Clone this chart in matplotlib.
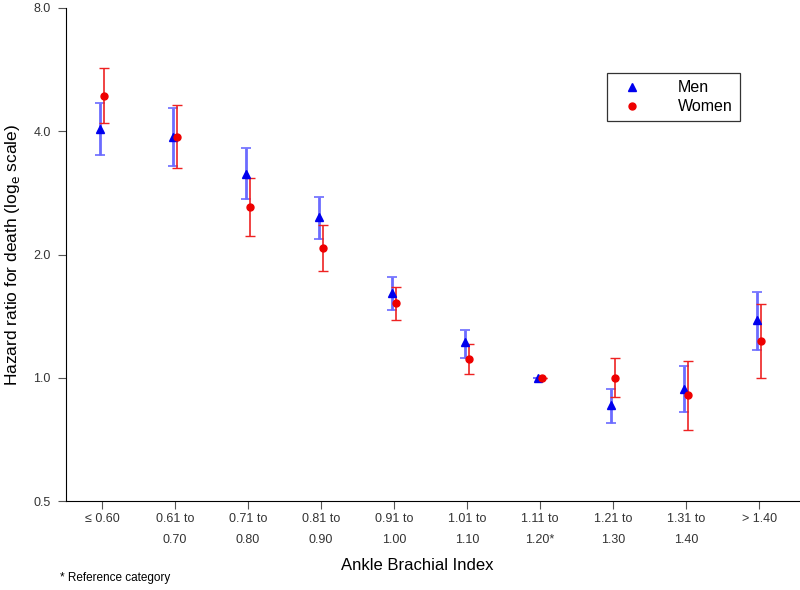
import numpy as np
import matplotlib
matplotlib.use("Agg")
import matplotlib.pyplot as plt
from matplotlib.ticker import FixedLocator, NullLocator

plt.rcParams['font.family'] = ['Liberation Sans', 'DejaVu Sans']

# ABI categories
categories = ["\u2264 0.60", "0.61 to\n0.70", "0.71 to\n0.80", "0.81 to\n0.90", "0.91 to\n1.00",
              "1.01 to\n1.10", "1.11 to\n1.20*", "1.21 to\n1.30", "1.31 to\n1.40", "> 1.40"]

# hazard ratios
men_hr = [4.06, 3.88, 3.14, 2.47, 1.61, 1.22, 1.00, 0.857, 0.938, 1.38]
men_lo = [3.50, 3.29, 2.73, 2.18, 1.46, 1.12, 1.00, 0.775, 0.825, 1.17]
men_hi = [4.70, 4.56, 3.64, 2.77, 1.76, 1.31, 1.00, 0.938, 1.066, 1.62]

women_hr = [4.89, 3.88, 2.61, 2.07, 1.52, 1.11, 1.00, 1.00, 0.907, 1.23]
women_lo = [4.19, 3.25, 2.22, 1.82, 1.38, 1.02, 1.00, 0.897, 0.745, 1.00]
women_hi = [5.72, 4.64, 3.07, 2.36, 1.67, 1.21, 1.00, 1.12, 1.10, 1.51]

yticks = [0.5, 1.0, 2.0, 4.0, 8.0]

x = np.arange(len(categories))
men_hr = np.array(men_hr); women_hr = np.array(women_hr)
men_err = [men_hr - np.array(men_lo), np.array(men_hi) - men_hr]
women_err = [women_hr - np.array(women_lo), np.array(women_hi) - women_hr]

fig = plt.figure(figsize=(8, 5.9), dpi=100)
ax = fig.add_axes([66/800, 1 - 501/590, 1 - 66/800, (501 - 8)/590])

ax.errorbar(x - 0.03, men_hr, yerr=men_err, fmt='none', ecolor='#6b6bff',
            elinewidth=2, capsize=3.5, capthick=1.2)
ax.errorbar(x + 0.03, women_hr, yerr=women_err, fmt='none', ecolor='#ee2222',
            elinewidth=1.2, capsize=3.5, capthick=1.0)
ax.plot(x - 0.03, men_hr, '^', color='#0000ee', markersize=6, label='Men', linestyle='none')
ax.plot(x + 0.03, women_hr, 'o', color='#ee0000', markersize=5, label='Women', linestyle='none')

ax.set_yscale('log', base=2)
ax.set_ylim(0.5, 8.0)
ax.yaxis.set_major_locator(FixedLocator(yticks))
ax.yaxis.set_minor_locator(NullLocator())
ax.set_yticklabels(["%.1f" % v for v in yticks])
ax.set_xlim(-0.493, 9.558)
ax.set_xticks(x)
ax.set_xticklabels(categories, linespacing=1.95, va='top')

ax.spines['top'].set_visible(False)
ax.spines['right'].set_visible(False)
ax.tick_params(axis='both', labelsize=9, labelcolor='#333333', color='#555555', length=6, width=0.8)
ax.tick_params(axis='x', pad=3)
ax.tick_params(axis='y', pad=5)

ax.set_ylabel("Hazard ratio for death (log$_\\mathrm{e}$ scale)", fontsize=12.5, labelpad=8)
fig.text(0.522, 1 - 565/590, "Ankle Brachial Index", fontsize=12, ha='center', va='center')
fig.text(60/800, 1 - 578/590, "* Reference category", fontsize=8.5, ha='left', va='center')

leg = ax.legend(loc='upper left', bbox_to_anchor=(607/800, 1 - 73/590), bbox_transform=fig.transFigure,
                fontsize=11.5, frameon=True, fancybox=False, edgecolor='black',
                handletextpad=1.8, borderpad=0.45, labelspacing=0.25, handlelength=2.2, borderaxespad=0)
leg.get_frame().set_linewidth(0.9)

fig.savefig("out.png", dpi=100)
